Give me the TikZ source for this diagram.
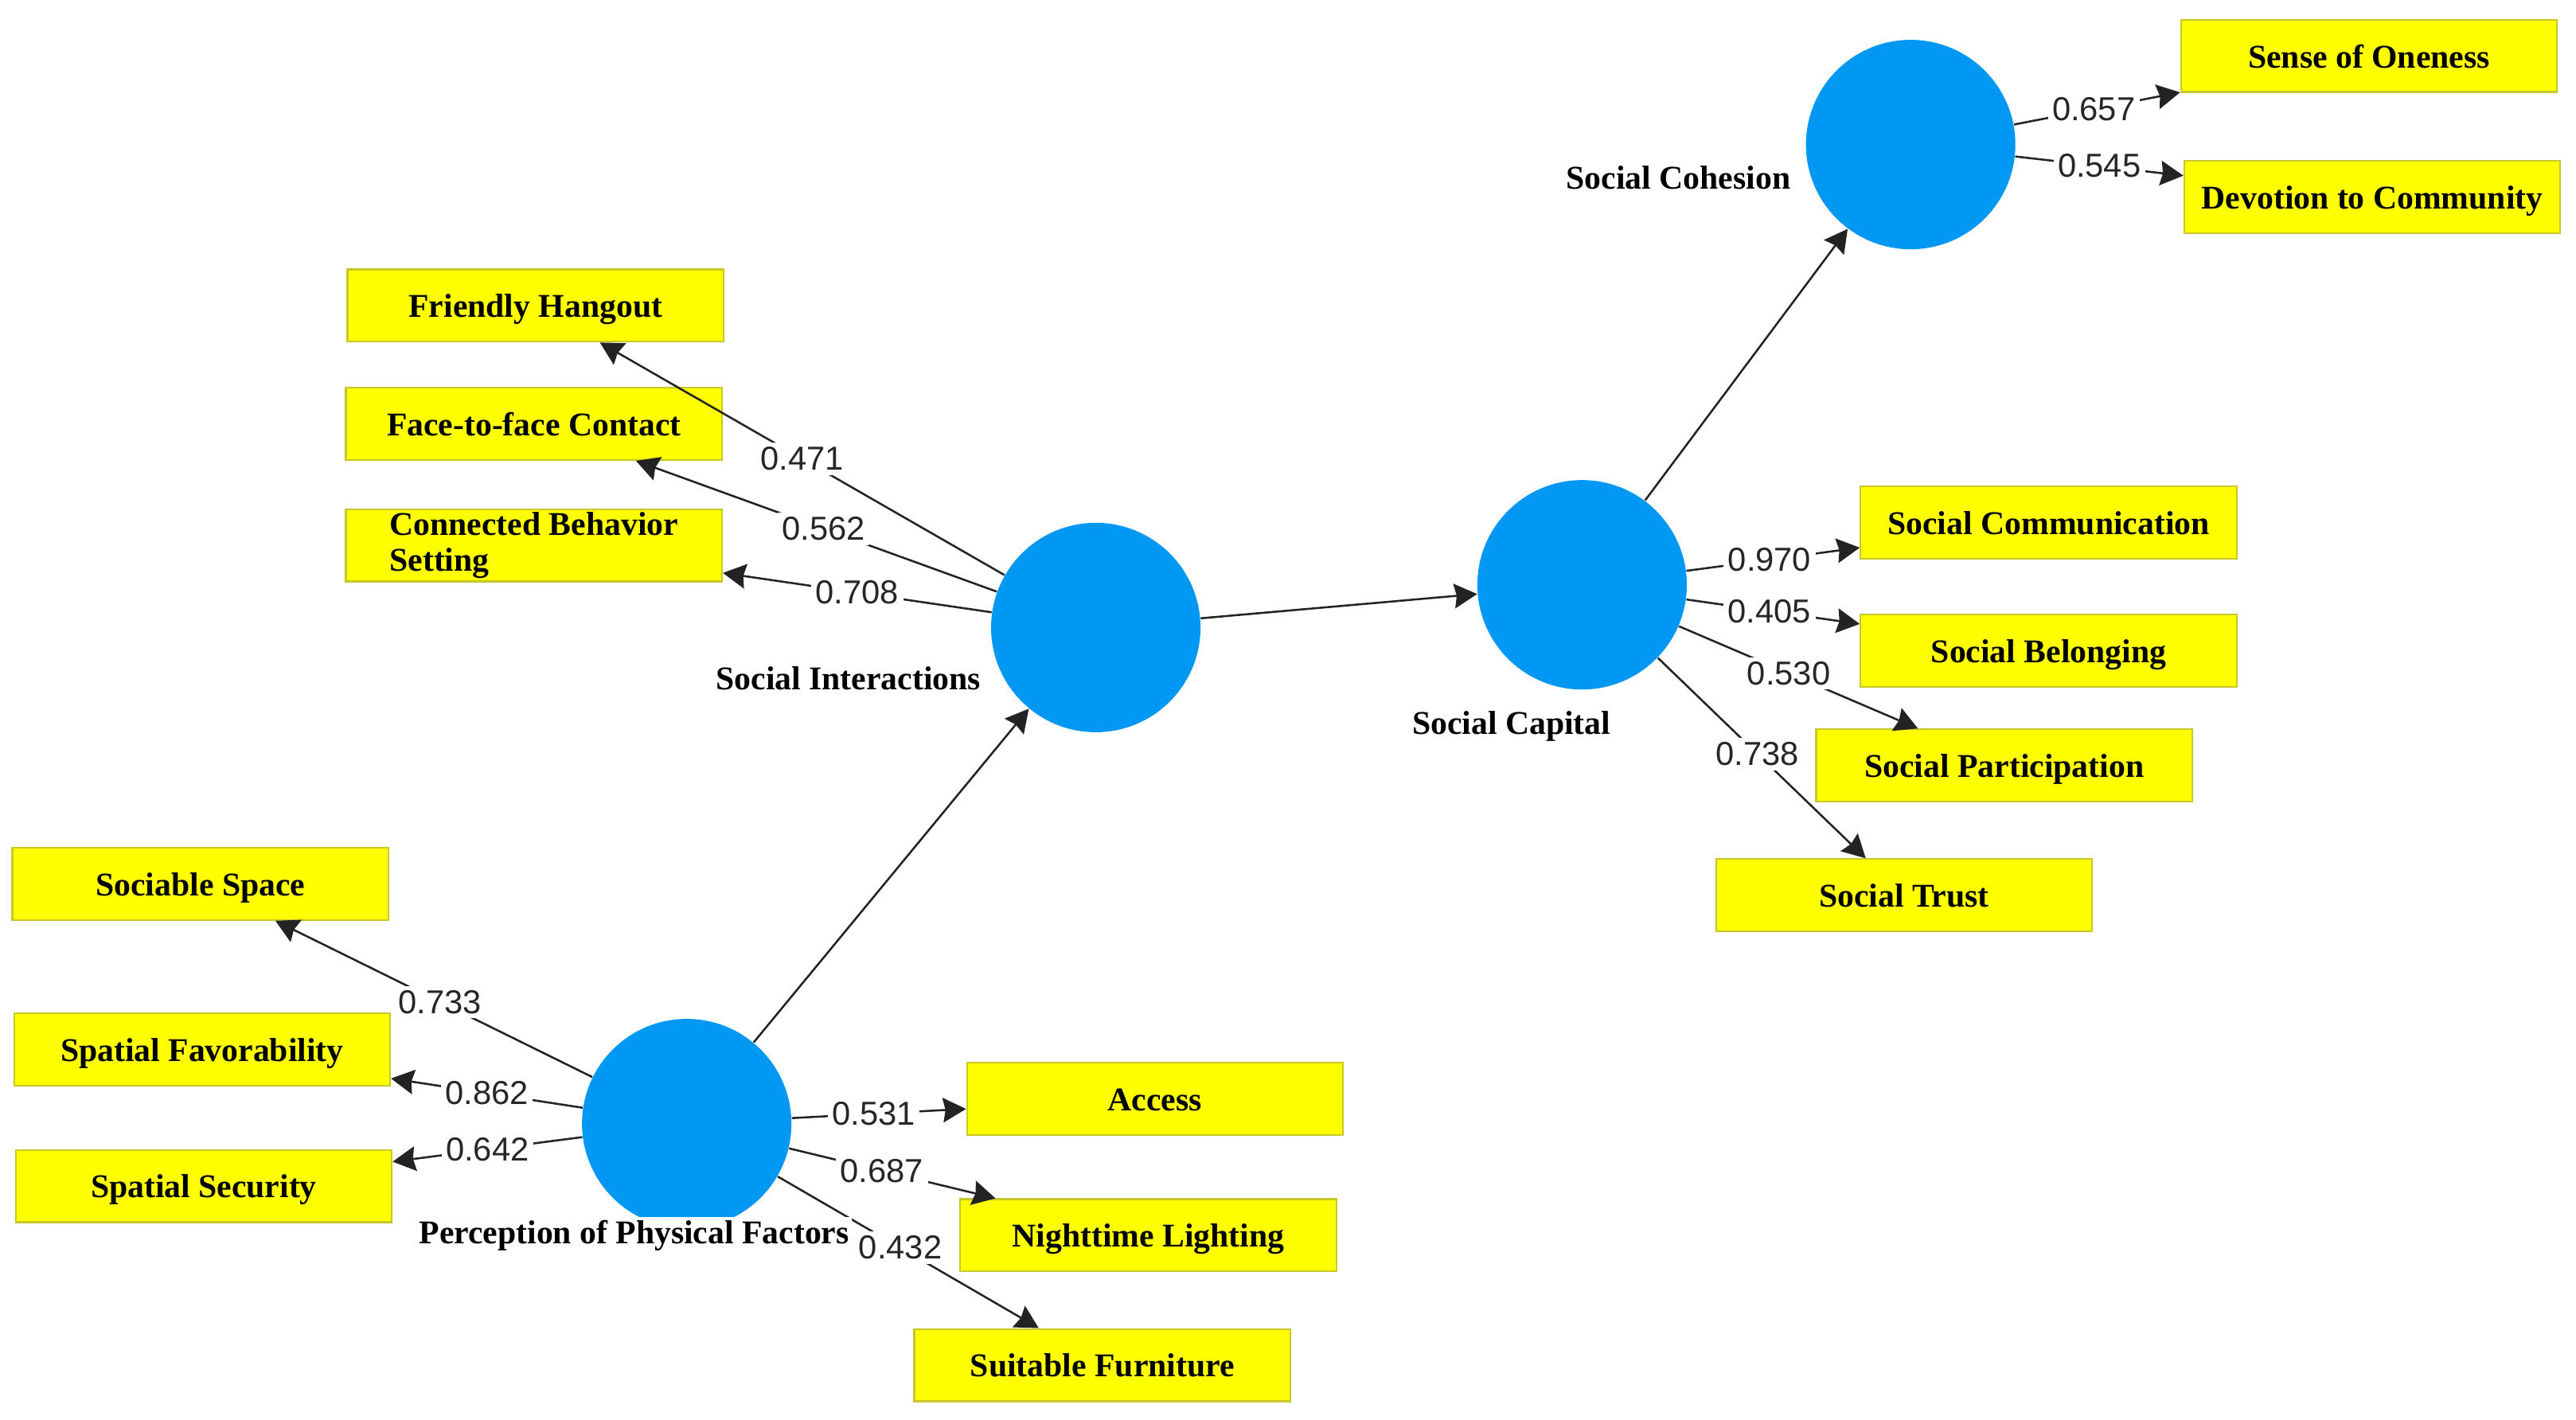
\documentclass[tikz,border=0pt]{standalone}
\usepackage{fontspec}
\setmainfont{Liberation Serif}
\newfontfamily\numfont{Liberation Sans}
\usetikzlibrary{arrows.meta}

\definecolor{latentblue}{RGB}{0,152,242}
\definecolor{itemyellow}{RGB}{255,255,0}
\definecolor{itemedge}{RGB}{200,200,40}
\definecolor{linkgray}{RGB}{35,35,35}

\begin{document}
\begin{tikzpicture}[x=0.02cm, y=-0.02cm,
    >={Stealth[length=0.28cm, width=0.3cm, inset=0.03cm]},
    latent/.style={circle, fill=latentblue, minimum size=2.55cm, inner sep=0pt},
    item/.style={rectangle, fill=itemyellow, draw=itemedge, line width=0.6pt,
        minimum width=4.58cm, minimum height=0.88cm,
        text height=8.6pt, text depth=0.4pt,
        font=\fontsize{11.5}{12.5}\selectfont\bfseries},
    latlabel/.style={inner sep=1pt, font=\fontsize{11.5}{12.5}\selectfont\bfseries},
    loading/.style={fill=white, inner sep=1.5pt, text=black!85,
        font=\numfont\fontsize{11.5}{12}\selectfont},
    link/.style={->, draw=linkgray, line width=0.7pt}]
        \useasboundingbox (0,0) rectangle (1568,864.4);

        % Latent variables
        \node (soc_int) [latent] at (667,382) {};
        \node (soc_cap) [latent] at (963,356) {};
        \node (soc_coh) [latent] at (1163,88) {};
        \node (phys) [latent] at (418,684) {};

        % Indicators
        \node (friendly_hangout) [item] at (326,186) {Friendly Hangout};
        \node (face_contact) [item] at (325,258) {Face-to-face Contact};
        \node (connected_setting) [item, text height=, text depth=, align=left, inner ysep=0.5pt] at (325,332) {Connected Behavior\\Setting};
        \node (sociable_space) [item] at (122,538) {Sociable Space};
        \node (spatial_favor) [item] at (123,639) {Spatial Favorability};
        \node (spatial_security) [item] at (124,722) {Spatial Security};
        \node (access) [item] at (703,669) {Access};
        \node (night_light) [item] at (699,752) {Nighttime Lighting};
        \node (furniture) [item] at (671,831) {Suitable Furniture};
        \node (oneness) [item] at (1442,34) {Sense of Oneness};
        \node (devotion) [item] at (1444,120) {Devotion to Community};
        \node (communication) [item] at (1247,318) {Social Communication};
        \node (belonging) [item] at (1247,396) {Social Belonging};
        \node (participation) [item] at (1220,466) {Social Participation};
        \node (trust) [item] at (1159,545) {Social Trust};

        % Structural paths
        \draw[link] (phys) -- (soc_int);
        \draw[link] (soc_int) -- (soc_cap);
        \draw[link] (soc_cap) -- (soc_coh);

        % Outer loadings
        \draw[link] (soc_int) -- node[loading, pos=0.5] {0.471} (friendly_hangout);
        \draw[link] (soc_int) -- node[loading, pos=0.48] {0.562} (face_contact);
        \draw[link] (soc_int) -- node[loading, pos=0.5] {0.708} (connected_setting);

        \draw[link] (phys) -- node[loading, pos=0.48] {0.733} (sociable_space);
        \draw[link] (phys) -- node[loading, pos=0.5] {0.862} (spatial_favor);
        \draw[link] (phys) -- node[loading, pos=0.5] {0.642} (spatial_security);
        \draw[link] (phys) -- node[loading, pos=0.47] {0.531} (access);
        \draw[link] (phys) -- node[loading, pos=0.45] {0.687} (night_light);
        \draw[link] (phys) -- node[loading, pos=0.47] {0.432} (furniture);

        \draw[link] (soc_cap) -- node[loading, pos=0.48] {0.970} (communication);
        \draw[link] (soc_cap) -- node[loading, pos=0.48] {0.405} (belonging);
        \draw[link] (soc_cap) -- node[loading, pos=0.46] {0.530} (participation);
        \draw[link] (soc_cap) -- node[loading, pos=0.48] {0.738} (trust);

        \draw[link] (soc_coh) -- node[loading, pos=0.48] {0.657} (oneness);
        \draw[link] (soc_coh) -- node[loading, pos=0.5] {0.545} (devotion);

        % Latent labels
        \node (soc_int_label) [latlabel, anchor=east] at (599,413) {Social Interactions};
        \node (soc_cap_label) [latlabel] at (920,442) {Social Capital};
        \node (soc_coh_label) [latlabel, anchor=east] at (1092,108) {Social Cohesion};
        \node (phys_label) [latlabel, fill=white] at (386,752) {Perception of Physical Factors};
    \end{tikzpicture}
\end{document}
